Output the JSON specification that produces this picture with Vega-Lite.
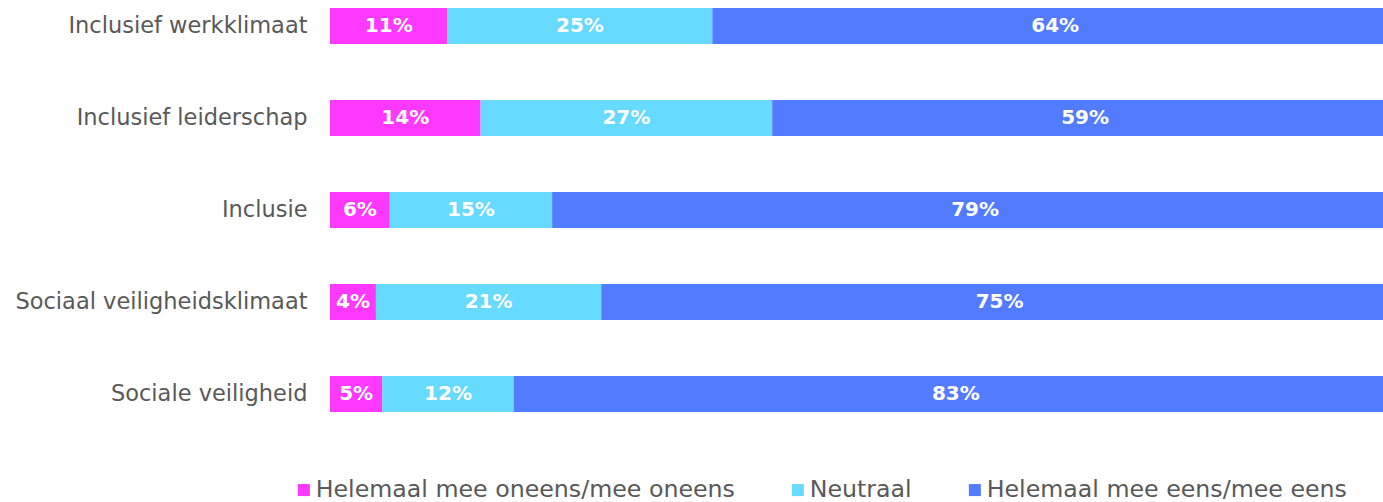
{
  "$schema": "https://vega.github.io/schema/vega-lite/v6.json",
  "width": 1053,
  "height": 420,
  "autosize": {"type": "none"},
  "padding": {"left": 330, "top": 0, "right": 0, "bottom": 82},
  "background": "white",
  "config": {"view": {"stroke": null}},
  "data": {
    "values": [
      {"item": "Inclusief werkklimaat", "category": "Helemaal mee oneens/mee oneens", "rank": 1, "value": 0.110},
      {"item": "Inclusief werkklimaat", "category": "Neutraal", "rank": 2, "value": 0.248},
      {"item": "Inclusief werkklimaat", "category": "Helemaal mee eens/mee eens", "rank": 3, "value": 0.642},
      {"item": "Inclusief leiderschap", "category": "Helemaal mee oneens/mee oneens", "rank": 1, "value": 0.141},
      {"item": "Inclusief leiderschap", "category": "Neutraal", "rank": 2, "value": 0.273},
      {"item": "Inclusief leiderschap", "category": "Helemaal mee eens/mee eens", "rank": 3, "value": 0.586},
      {"item": "Inclusie", "category": "Helemaal mee oneens/mee oneens", "rank": 1, "value": 0.056},
      {"item": "Inclusie", "category": "Neutraal", "rank": 2, "value": 0.152},
      {"item": "Inclusie", "category": "Helemaal mee eens/mee eens", "rank": 3, "value": 0.792},
      {"item": "Sociaal veiligheidsklimaat", "category": "Helemaal mee oneens/mee oneens", "rank": 1, "value": 0.043},
      {"item": "Sociaal veiligheidsklimaat", "category": "Neutraal", "rank": 2, "value": 0.211},
      {"item": "Sociaal veiligheidsklimaat", "category": "Helemaal mee eens/mee eens", "rank": 3, "value": 0.746},
      {"item": "Sociale veiligheid", "category": "Helemaal mee oneens/mee oneens", "rank": 1, "value": 0.049},
      {"item": "Sociale veiligheid", "category": "Neutraal", "rank": 2, "value": 0.123},
      {"item": "Sociale veiligheid", "category": "Helemaal mee eens/mee eens", "rank": 3, "value": 0.828}
    ]
  },
  "transform": [
    {"stack": "value", "groupby": ["item"], "sort": [{"field": "rank", "order": "ascending"}], "as": ["v0", "v1"]},
    {"calculate": "(datum.v0 + datum.v1) / 2", "as": "mid"}
  ],
  "encoding": {
    "y": {
      "field": "item",
      "type": "nominal",
      "sort": ["Inclusief werkklimaat", "Inclusief leiderschap", "Inclusie", "Sociaal veiligheidsklimaat", "Sociale veiligheid"],
      "scale": {"paddingInner": 0.6087, "paddingOuter": 0.087},
      "axis": {
        "title": null,
        "ticks": false,
        "domain": false,
        "labelPadding": 23,
        "labelFont": "DejaVu Sans",
        "labelFontSize": 22.5,
        "labelColor": "#595959",
        "labelLimit": 0
      }
    }
  },
  "layer": [
    {
      "mark": {"type": "bar"},
      "encoding": {
        "x": {
          "field": "v0",
          "type": "quantitative",
          "scale": {"domain": [0, 1], "range": [0, 1068], "nice": false, "zero": true},
          "axis": null
        },
        "x2": {"field": "v1"},
        "color": {
          "field": "category",
          "type": "nominal",
          "scale": {
            "domain": ["Helemaal mee oneens/mee oneens", "Neutraal", "Helemaal mee eens/mee eens"],
            "range": ["#FF38FF", "#66DAFF", "#537BFF"]
          },
          "legend": {
            "title": null,
            "orient": "none",
            "direction": "horizontal",
            "legendX": -38,
            "legendY": 478,
            "symbolType": "square",
            "symbolSize": 144,
            "symbolStrokeWidth": 0,
            "labelOffset": 0,
            "columnPadding": 51,
            "labelFont": "DejaVu Sans",
            "labelFontSize": 23.7,
            "labelColor": "#595959",
            "labelLimit": 0
          }
        }
      }
    },
    {
      "mark": {"type": "text", "font": "DejaVu Sans", "fontWeight": "bold", "fontSize": 20, "color": "white", "align": "center", "baseline": "middle"},
      "encoding": {
        "x": {"field": "mid", "type": "quantitative", "axis": null},
        "text": {"field": "value", "type": "quantitative", "format": ".0%"}
      }
    }
  ]
}
